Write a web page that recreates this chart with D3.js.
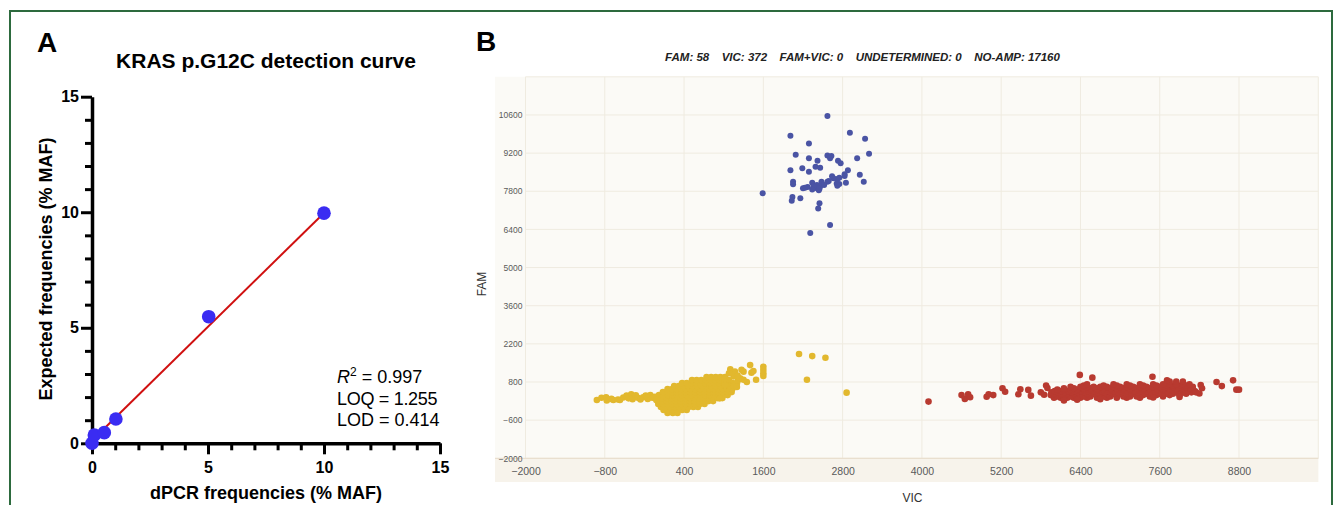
<!DOCTYPE html>
<html>
<head>
<meta charset="utf-8">
<script src="https://cdn.jsdelivr.net/npm/d3@7"></script>
<style>
  body { margin: 0; background: #fff; }
  svg { display: block; font-family: "Liberation Sans", Arial, Helvetica, sans-serif; }
</style>
</head>
<body>
<script>
// ---- panel A : detection curve ----
var dpcrFreq = [0, 0.1, 0.53, 1.03, 5.03, 10.0];
var expectedFreq = [0, 0.36, 0.46, 1.05, 5.48, 9.96];
var fitSlope = 0.985, fitIntercept = 0.12, fitFrom = 0.1, fitTo = 10;
var aMajorTicks = [0, 5, 10, 15];
var aMinorTicks = [1, 2, 3, 4, 6, 7, 8, 9, 11, 12, 13, 14];
var aStats = ["LOQ = 1.255", "LOD = 0.414"];

// ---- panel B : droplet scatter (VIC, FAM) ----
var statLabels = ["FAM: 58", "VIC: 372", "FAM+VIC: 0", "UNDETERMINED: 0", "NO-AMP: 17160"];
var vicTicks = [-2000, -800, 400, 1600, 2800, 4000, 5200, 6400, 7600, 8800];
var famTicks = [-2000, -600, 800, 2200, 3600, 5000, 6400, 7800, 9200, 10600];

// FAM positive droplets [vic, fam]
var famDrops = [
  [2570,10560],[2010,9840],[2910,9950],[3140,9730],[2290,9550],[2090,9140],[3200,9180],
  [2570,9110],[2630,9090],[2610,9010],[2290,9010],[2420,8920],[2730,8920],[2770,8830],
  [3020,9010],[2390,8700],[2460,8660],[2190,8640],[2010,8570],[2290,8520],[2880,8570],
  [2830,8420],[3060,8410],[2640,8350],[2720,8250],[2750,8300],[2830,8360],[2050,8150],
  [2050,8060],[2340,8110],[2480,8150],[2570,8150],[2710,8080],[2720,8000],[2850,8110],
  [3120,8150],[2410,8030],[2460,7980],[2270,7960],[2200,7910],[2410,7910],[2440,7840],
  [1590,7730],[2040,7590],[2030,7450],[2160,7540],[2450,7360],[2430,7170],[2610,6560],
  [2310,6270],[2230,7930],[2360,7970],[2520,8030],[2660,8280],[2450,7890],[2340,7860],
  [2750,8070],[2590,8180]
];

// no-amplification droplets: dense core as rows [fam, [vic...]]
var noAmpCore = [
  [-340, [150, 230, 300]],
  [-230, [90, 160, 230, 300, 370, 440]],
  [-120, [50, 120, 190, 260, 330, 400, 470, 540, 610]],
  [-10, [10, 80, 150, 220, 290, 360, 430, 500, 570, 640, 710]],
  [100, [0, 70, 140, 210, 280, 350, 420, 490, 560, 630, 700, 770, 840]],
  [210, [0, 70, 140, 210, 280, 350, 420, 490, 560, 630, 700, 770, 840, 910, 980]],
  [320, [20, 90, 160, 230, 300, 370, 440, 510, 580, 650, 720, 790, 860, 930, 1000, 1060]],
  [430, [80, 150, 220, 290, 360, 430, 500, 570, 640, 710, 780, 850, 920, 990, 1060, 1120]],
  [540, [150, 220, 290, 360, 430, 500, 570, 640, 710, 780, 850, 920, 990, 1060, 1130]],
  [650, [250, 320, 390, 460, 530, 600, 670, 740, 810, 880, 950, 1020, 1090]],
  [760, [370, 440, 510, 580, 650, 720, 790, 860, 930, 1000, 1070, 1140]],
  [870, [520, 590, 660, 730, 800, 870, 940, 1010, 1080]],
  [980, [740, 810, 880, 950, 1020]]
];
// no-amp tail and scattered droplets [vic, fam]
var noAmpLoose = [
  [-920,140],[-850,220],[-780,240],[-770,120],[-700,180],[-670,140],[-600,160],[-570,140],
  [-520,230],[-470,300],[-440,200],[-400,350],[-380,170],[-330,310],[-300,220],[-260,160],
  [-220,240],[-180,300],[-150,180],[-110,320],[-80,220],[-40,260],[-20,140],
  [1100,1270],[1170,1180],[1270,1250],[1300,1180],[1400,1420],[1420,1140],[1450,1200],
  [1490,880],[1350,800],[1300,880],[1250,940],[1220,870],[1200,750],[1150,1000],[1150,650],
  [1050,870],[1020,940],[1020,810],[1020,690],[1600,1360],[1600,1240],[1600,1120],[1600,1020],
  [1200,620],[940,200],[1160,1080],[1210,1040],[1080,1120],
  [2140,1830],[2340,1750],[2540,1690],[2260,880],[2860,410]
];

// VIC positive droplets: dense band rows [fam, [vic...]] + loose ones
var vicCore = [
  [220, [6000, 6100, 6200, 6300, 6400, 6500, 6650, 6800, 6950, 7100, 7300]],
  [270, [6050, 6150, 6250, 6350, 6450, 6550, 6650, 6750, 6850, 6950, 7050, 7150, 7250, 7450, 7650]],
  [320, [5950, 6050, 6150, 6250, 6350, 6450, 6550, 6650, 6750, 6850, 6950, 7050, 7150, 7250, 7350, 7450, 7550, 7650, 7750, 7900]],
  [370, [6000, 6100, 6200, 6300, 6400, 6500, 6600, 6700, 6800, 6900, 7000, 7100, 7200, 7300, 7400, 7500, 7600, 7700, 7800, 7900, 8000]],
  [420, [5960, 6060, 6160, 6260, 6360, 6460, 6560, 6660, 6760, 6860, 6960, 7060, 7160, 7260, 7360, 7460, 7560, 7660, 7760, 7860, 7960, 8080]],
  [470, [6010, 6110, 6210, 6310, 6410, 6510, 6610, 6710, 6810, 6910, 7010, 7110, 7210, 7310, 7410, 7510, 7610, 7710, 7810, 7910, 8010, 8130]],
  [520, [6050, 6150, 6250, 6350, 6450, 6550, 6650, 6750, 6850, 6950, 7050, 7150, 7250, 7350, 7450, 7550, 7650, 7750, 7850, 7950, 8100]],
  [570, [6150, 6300, 6450, 6550, 6650, 6750, 6850, 6950, 7050, 7150, 7250, 7350, 7450, 7550, 7650, 7750, 7850, 7950, 8050]],
  [620, [6250, 6400, 6500, 6600, 6700, 6800, 6900, 7000, 7100, 7200, 7300, 7400, 7500, 7600, 7700, 7800, 7900, 8000, 8100]],
  [670, [6450, 6750, 6950, 7150, 7350, 7550, 7700, 7800, 7900, 8000]],
  [720, [6500, 6900, 7100, 7300, 7500, 7650, 7750, 7850, 7950, 8050]],
  [820, [7750, 7850, 7950]]
];
var vicLoose = [
  [4100,80],[4600,320],[4650,180],[4700,350],[4730,240],[4980,260],[5010,350],[5080,320],
  [5220,570],[5260,440],[5460,350],[5490,530],[5610,510],[5650,300],[5880,670],[5900,580],
  [6390,1060],[6580,960],[7490,990],[7710,860],[8220,690],[8240,570],[8460,800],[8540,650],
  [8710,860],[8760,520],[8800,520],[6150,120],[6350,150],[6700,170],[7500,230],[7900,250],
  [8150,420],[8200,380],[5800,420],[5850,330]
];

var width = 1334, height = 505;

var svg = d3.select("body").append("svg")
  .attr("width", width)
  .attr("height", height);

// outer frame
svg.append("rect")
  .attr("x", 10).attr("y", 11)
  .attr("width", 1322).attr("height", 520)
  .attr("fill", "none")
  .attr("stroke", "#2d6a3e")
  .attr("stroke-width", 2);

// =================== panel A ===================
var xA = d3.scaleLinear().domain([0, 15]).range([92, 440]);
var yA = d3.scaleLinear().domain([0, 15]).range([443.3, 96.7]);

var gA = svg.append("g");

gA.append("text")
  .attr("x", 37).attr("y", 52)
  .attr("font-size", 28).attr("font-weight", "bold")
  .text("A");

gA.append("text")
  .attr("x", 266).attr("y", 68)
  .attr("text-anchor", "middle")
  .attr("font-size", 21).attr("font-weight", "bold")
  .text("KRAS p.G12C detection curve");

// minor ticks first, then major axis on top
gA.append("g")
  .attr("transform", "translate(0,443.3)")
  .call(d3.axisBottom(xA).tickValues(aMinorTicks).tickSize(7).tickSizeOuter(0).tickFormat(""))
  .call(function (g) { g.select(".domain").remove(); });
gA.append("g")
  .attr("transform", "translate(92,0)")
  .call(d3.axisLeft(yA).tickValues(aMinorTicks).tickSize(7).tickSizeOuter(0).tickFormat(""))
  .call(function (g) { g.select(".domain").remove(); });

var axXA = gA.append("g")
  .attr("transform", "translate(0,443.3)")
  .call(d3.axisBottom(xA).tickValues(aMajorTicks).tickSize(11).tickSizeOuter(0).tickPadding(7));
var axYA = gA.append("g")
  .attr("transform", "translate(92,0)")
  .call(d3.axisLeft(yA).tickValues(aMajorTicks).tickSize(11).tickSizeOuter(0).tickPadding(2));

gA.selectAll(".tick line").attr("stroke", "#000").attr("stroke-width", 3);
gA.selectAll(".domain").attr("stroke", "#000").attr("stroke-width", 3.5);
gA.selectAll(".tick text")
  .attr("font-family", "Liberation Sans, Arial, sans-serif")
  .attr("font-size", 16).attr("font-weight", "bold").attr("fill", "#000");

gA.append("text")
  .attr("x", 266).attr("y", 499)
  .attr("text-anchor", "middle")
  .attr("font-size", 18).attr("font-weight", "bold")
  .text("dPCR frequencies (% MAF)");

gA.append("text")
  .attr("transform", "translate(52,269) rotate(-90)")
  .attr("text-anchor", "middle")
  .attr("font-size", 18).attr("font-weight", "bold")
  .text("Expected frequencies (% MAF)");

// regression line
gA.append("line")
  .attr("x1", xA(fitFrom)).attr("y1", yA(fitSlope * fitFrom + fitIntercept))
  .attr("x2", xA(fitTo)).attr("y2", yA(fitSlope * fitTo + fitIntercept))
  .attr("stroke", "#d01010")
  .attr("stroke-width", 2);

gA.selectAll("circle.pt")
  .data(dpcrFreq)
  .enter().append("circle")
  .attr("class", "pt")
  .attr("cx", function (d) { return xA(d); })
  .attr("cy", function (d, i) { return yA(expectedFreq[i]); })
  .attr("r", 6.8)
  .attr("fill", "#3a2cf2");

var r2 = gA.append("text")
  .attr("x", 337).attr("y", 383)
  .attr("font-size", 18);
r2.append("tspan").attr("font-style", "italic").text("R");
r2.append("tspan").attr("font-size", 12).attr("dy", -7).text("2");
r2.append("tspan").attr("dy", 7).text(" = 0.997");

gA.selectAll("text.stat")
  .data(aStats)
  .enter().append("text")
  .attr("class", "stat")
  .attr("x", 337)
  .attr("y", function (d, i) { return 404.5 + i * 21.7; })
  .attr("font-size", 18)
  .attr("textLength", function (d, i) { return i === 0 ? 100.5 : 102.5; })
  .text(function (d) { return d; });

// =================== panel B ===================
var xB = d3.scaleLinear().domain([-2000, 10000]).range([525.5, 1318.3]);
var yB = d3.scaleLinear().domain([-2000, 12000]).range([458.3, 76.8]);

var gB = svg.append("g");

gB.append("text")
  .attr("x", 476).attr("y", 51)
  .attr("font-size", 28).attr("font-weight", "bold")
  .text("B");

// stats header, segments spaced like the original
var header = gB.append("g");
header.selectAll("text")
  .data(statLabels)
  .enter().append("text")
  .attr("y", 60.5)
  .attr("font-size", 11.5)
  .attr("font-weight", "bold")
  .attr("font-style", "italic")
  .attr("fill", "#222")
  .text(function (d) { return d; });
var hx = 0, gap = 12.5;
header.selectAll("text").each(function () {
  d3.select(this).attr("x", hx);
  hx += this.getComputedTextLength() + gap;
});
header.attr("transform", "translate(" + (862.5 - (hx - gap) / 2) + ",0)");

// plot background
gB.append("rect")
  .attr("x", 495).attr("y", 76.8)
  .attr("width", 1318.3 - 495).attr("height", 482 - 76.8)
  .attr("fill", "#fbfaf6");
gB.append("rect")
  .attr("x", 495).attr("y", 458.3)
  .attr("width", 1318.3 - 495).attr("height", 482 - 458.3)
  .attr("fill", "#f7f3eb");

// grid
gB.selectAll("line.vg")
  .data(vicTicks.concat([10000]))
  .enter().append("line")
  .attr("class", "vg")
  .attr("x1", function (d) { return xB(d); }).attr("x2", function (d) { return xB(d); })
  .attr("y1", yB(12000)).attr("y2", yB(-2000))
  .attr("stroke", "#efebe0").attr("stroke-width", 1);
gB.selectAll("line.hg")
  .data(famTicks.concat([12000]))
  .enter().append("line")
  .attr("class", "hg")
  .attr("x1", xB(-2000)).attr("x2", xB(10000))
  .attr("y1", function (d) { return yB(d); }).attr("y2", function (d) { return yB(d); })
  .attr("stroke", "#efebe0").attr("stroke-width", 1);
gB.append("line")
  .attr("x1", 495).attr("x2", xB(10000))
  .attr("y1", yB(-2000)).attr("y2", yB(-2000))
  .attr("stroke", "#e9dfcf").attr("stroke-width", 1.2);

// tick labels
var axXB = gB.append("g")
  .attr("transform", "translate(0," + yB(-2000) + ")")
  .call(d3.axisBottom(xB).tickValues(vicTicks).tickSize(0).tickPadding(9).tickFormat(d3.format("d")));
var axYB = gB.append("g")
  .attr("transform", "translate(" + xB(-2000) + ",0)")
  .call(d3.axisLeft(yB).tickValues(famTicks).tickSize(0).tickPadding(3).tickFormat(d3.format("d")));
gB.selectAll(".domain").remove();
axXB.selectAll("text").attr("font-size", 10.5).attr("fill", "#5a5a5a")
  .attr("font-family", "Liberation Sans, Arial, sans-serif");
axYB.selectAll("text").attr("font-size", 8.5).attr("fill", "#5a5a5a")
  .attr("font-family", "Liberation Sans, Arial, sans-serif");

// axis names
gB.append("text")
  .attr("x", 912.5).attr("y", 501.5)
  .attr("text-anchor", "middle")
  .attr("font-size", 12).attr("fill", "#333")
  .text("VIC");
gB.append("text")
  .attr("transform", "translate(486,284) rotate(-90)")
  .attr("text-anchor", "middle")
  .attr("font-size", 12).attr("fill", "#333")
  .text("FAM");

// droplets
function flattenRows(rows) {
  var out = [];
  rows.forEach(function (r) {
    r[1].forEach(function (v) { out.push([v, r[0]]); });
  });
  return out;
}

var noAmp = flattenRows(noAmpCore).concat(noAmpLoose);
var vicPos = flattenRows(vicCore).concat(vicLoose);

gB.append("g").selectAll("circle")
  .data(noAmp)
  .enter().append("circle")
  .attr("cx", function (d) { return xB(d[0]); })
  .attr("cy", function (d) { return yB(d[1]); })
  .attr("r", 3.3)
  .attr("fill", "#e2b82e");

gB.append("g").selectAll("circle")
  .data(vicPos)
  .enter().append("circle")
  .attr("cx", function (d) { return xB(d[0]); })
  .attr("cy", function (d) { return yB(d[1]); })
  .attr("r", 3.3)
  .attr("fill", "#b83a30");

gB.append("g").selectAll("circle")
  .data(famDrops)
  .enter().append("circle")
  .attr("cx", function (d) { return xB(d[0]); })
  .attr("cy", function (d) { return yB(d[1]); })
  .attr("r", 3)
  .attr("fill", "#4a54a4");
</script>
</body>
</html>
